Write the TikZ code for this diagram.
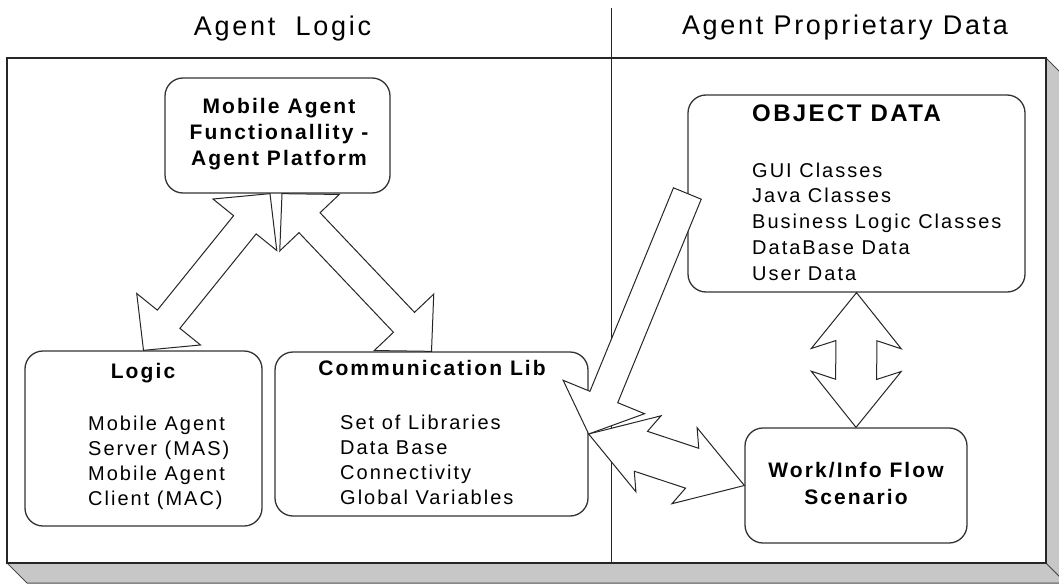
\documentclass[tikz,border=0pt]{standalone}
\usepackage{fontspec}
\setmainfont{Liberation Sans}
\newfontfamily\lsf{Liberation Sans}[LetterSpace=10]
\usetikzlibrary{calc}
\newcommand\ttlfont{\lsf\fontsize{27}{32}\selectfont}
\newcommand\bodyfont{\lsf\fontsize{20}{25}\selectfont}
\newcommand\headfont{\lsf\bfseries\fontsize{21}{26}\selectfont}
\newcommand\bigheadfont{\lsf\bfseries\fontsize{24}{28}\selectfont}
% double block arrow: #1 A, #2 B, #3 head length, #4 head half width, #5 shaft half width, #6 sweep
\newcommand{\dblarrow}[6]{%
  \filldraw[barrow] (#1)
   -- ($(#1)!#3+#6!(#2)!#4!90:(#2)$)
   -- ($(#1)!#3!(#2)!#5!90:(#2)$)
   -- ($(#2)!#3!(#1)!#5!-90:(#1)$)
   -- ($(#2)!#3+#6!(#1)!#4!-90:(#1)$)
   -- (#2)
   -- ($(#2)!#3+#6!(#1)!#4!90:(#1)$)
   -- ($(#2)!#3!(#1)!#5!90:(#1)$)
   -- ($(#1)!#3!(#2)!#5!-90:(#2)$)
   -- ($(#1)!#3+#6!(#2)!#4!-90:(#2)$)
   -- cycle;}
% single block arrow: #1 tail, #2 tip, #3 head length, #4 head half width, #5 shaft half width
\newcommand{\sglarrow}[5]{%
  \filldraw[barrow] ($(#1)!#5!90:(#2)$)
   -- ($(#2)!#3!(#1)!#5!-90:(#1)$)
   -- ($(#2)!#3!(#1)!#4!-90:(#1)$)
   -- (#2)
   -- ($(#2)!#3!(#1)!#4!90:(#1)$)
   -- ($(#2)!#3!(#1)!#5!90:(#1)$)
   -- ($(#1)!#5!-90:(#2)$)
   -- cycle;}
\begin{document}
\begin{tikzpicture}[x=1pt,y=-1pt,
  box/.style={draw=black!80, line width=1.3pt, rounded corners=18pt, fill=white, inner sep=0pt},
  barrow/.style={draw=black!85, line width=1pt, fill=white, line join=miter},
  frameface/.style={draw=black!85, line width=1.4pt, fill=white},
  sideface/.style={draw=black!70, line width=1pt, fill=black!22},
  ttl/.style={font=\ttlfont, inner sep=0pt, anchor=base},
  body/.style={font=\bodyfont, align=left, inner sep=0pt, anchor=west},
  head/.style={font=\headfont, align=center, inner sep=0pt}]
\useasboundingbox (0,0) rectangle (1059,583);
\clip (0,0) rectangle (1059,583);
% 3D frame
\filldraw[sideface] (7,563) -- (1046,563) -- (1066,583) -- (27,583) -- cycle;
\filldraw[sideface] (1046,58) -- (1066,78) -- (1066,583) -- (1046,563) -- cycle;
\filldraw[frameface] (7,58) rectangle (1046,563);
\draw[line width=1pt, black!85] (611,8) -- (611,563);
% titles
\node[ttl] (t1) at (282.5,36) {Agent\ \ Logic};
\node[ttl] (t2) at (845,35) {Agent Proprietary Data};
% boxes
\node[box, minimum width=225pt, minimum height=115pt] (mob) at (277.5,135.5) {};
\node[box, minimum width=237pt, minimum height=175pt] (logic) at (143.5,438.5) {};
\node[box, minimum width=313pt, minimum height=164pt] (comm) at (431.5,434) {};
\node[box, minimum width=337pt, minimum height=197pt] (obj) at (856.5,193.5) {};
\node[box, minimum width=222pt, minimum height=115pt] (work) at (856,485.5) {};
% arrows
\coordinate (mA) at ([xshift=-7.5pt]mob.south);
\coordinate (mB) at ([xshift=4.5pt]mob.south);
\dblarrow{mA}{logic.north}{40pt}{41pt}{14.5pt}{0pt}
\dblarrow{mB}{comm.north}{40pt}{41pt}{14.5pt}{0pt}
\sglarrow{obj.west}{comm.east}{40pt}{44pt}{15pt}
\dblarrow{comm.east}{work.west}{55pt}{40pt}{21pt}{8pt}
\dblarrow{obj.south}{work.north}{48pt}{45pt}{20.5pt}{8pt}
% texts
\node[head] (mobt) at (279,134) {Mobile Agent\\Functionallity -\\Agent Platform};
\node[head] (logict) at (143,373) {Logic};
\node[body] (logicb) at (88,462.5) {Mobile Agent\\Server (MAS)\\Mobile Agent\\Client (MAC)};
\node[head] (commt) at (432,368) {Communication Lib};
\node[body] (commb) at (340,459.5) {Set of Libraries\\Data Base\\Connectivity\\Global Variables};
\node[font=\bigheadfont, inner sep=0pt, anchor=west] (objt) at (752,113) {OBJECT DATA};
\node[body, font={\lsf\fontsize{20}{25.7}\selectfont}] (objb) at (752,221.5) {GUI Classes\\Java Classes\\Business Logic Classes\\DataBase Data\\User Data};
\node[head, font={\lsf\bfseries\fontsize{21}{27}\selectfont}] (workt) at (856,483.5) {Work/Info Flow\\Scenario};
\end{tikzpicture}
\end{document}
